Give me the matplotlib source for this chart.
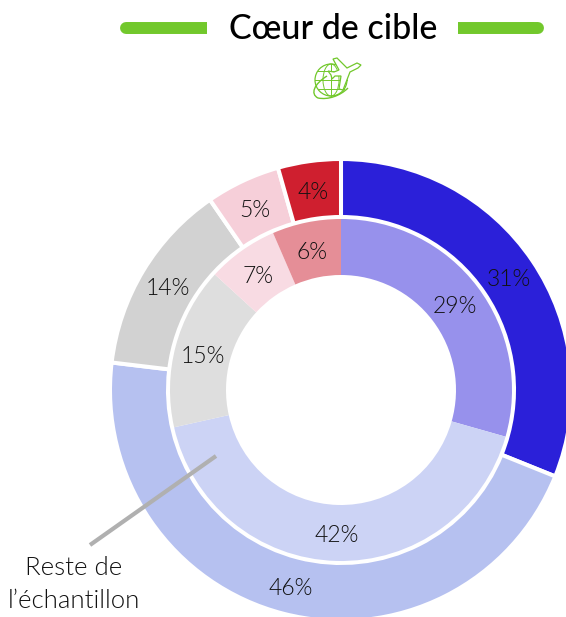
import matplotlib
matplotlib.use("Agg")
import matplotlib.pyplot as plt
import numpy as np
from matplotlib.patches import Circle, Ellipse, PathPatch, Polygon
from matplotlib.path import Path

outer_values = [31.1, 45.8, 13.5, 5.2, 4.4]
inner_values = [29.4, 42.1, 15.3, 6.7, 6.5]
outer_labels = ["31%", "46%", "14%", "5%", "4%"]
inner_labels = ["29%", "42%", "15%", "7%", "6%"]
outer_colors = ["#2b20d9", "#b6c1f0", "#d2d2d2", "#f6cfd9", "#cf1f2f"]
inner_colors = ["#9791ec", "#ccd3f5", "#dedede", "#f8dbe3", "#e58e97"]
GREEN = "#72c82c"
FONT = ["Lato", "DejaVu Sans"]
INK = "#111111"

# axes in pixels of the reference, y up so the pie keeps its orientation
fig = plt.figure(figsize=(5.66, 6.17), dpi=100)
ax = fig.add_axes([0, 0, 1, 1])
cx, cy = 341, 390


def ring(values, labels, colors, radius, width, edge, r_label):
    wedges, _ = ax.pie(values, colors=colors, radius=radius, center=(cx, -cy), startangle=90,
                       counterclock=False, frame=True,
                       wedgeprops=dict(width=width, edgecolor=edge, linewidth=2.9 if edge != "none" else 0))
    for w, lab in zip(wedges, labels):
        a = np.deg2rad((w.theta1 + w.theta2) / 2)
        ax.text(cx + r_label * np.cos(a), -cy + r_label * np.sin(a) - 3, lab, ha="center", va="center",
                fontsize=16.5, family=FONT, weight=300, color=INK, zorder=5)


ring(outer_values, outer_labels, outer_colors, 231, 58, "white", 202)
ring(inner_values, inner_labels, inner_colors, 171, 56, "none", 143)

ax.set_xlim(0, 566)
ax.set_ylim(-617, 0)
ax.set_aspect("equal")
ax.axis("off")

# title and bars
ax.text(333, -29, "Cœur de cible", ha="center", va="center", fontsize=24.5, family=FONT,
        weight="medium", color="black")
for x0, x1, xr0, xr1 in [(130, 207, 126, 134), (458, 534, 530, 538)]:
    ax.plot([x0, x1], [-28, -28], color=GREEN, lw=8.6, solid_capstyle="butt")
    ax.plot([xr0, xr1], [-28, -28], color=GREEN, lw=8.6, solid_capstyle="round")

# globe + plane icon
ix, iy, ir = 331, -80, 16
ax.add_patch(Circle((ix, iy), ir, fill=False, ec=GREEN, lw=0.9))
ax.add_patch(Ellipse((ix, iy), 16, ir * 2, fill=False, ec=GREEN, lw=0.7))
ax.plot([ix, ix], [iy - ir, iy + ir], color=GREEN, lw=0.7)
ax.plot([ix - ir, ix + ir], [iy, iy], color=GREEN, lw=0.7)
ax.plot([ix - 13, ix + 13], [iy + 9, iy + 9], color=GREEN, lw=0.7)
ax.plot([ix - 13, ix + 13], [iy - 9, iy - 9], color=GREEN, lw=0.7)
orbit = Path([(327, -76), (314, -84), (310, -94), (318, -98), (328, -100), (340, -96), (348, -88)],
             [Path.MOVETO] + [Path.CURVE4] * 6)
ax.add_patch(PathPatch(orbit, fill=False, ec=GREEN, lw=1.0, zorder=3))
ax.add_patch(Polygon([(328, -71), (334, -72), (339, -70), (333, -59), (337, -58), (347, -68),
                      (357, -63), (361, -65), (358, -68), (350, -72), (343, -90), (339, -89),
                      (341, -76), (335, -76), (332, -79), (331, -75)],
                     closed=True, fc="white", ec=GREEN, lw=0.9, zorder=4))

# leader
ax.plot([216, 90], [-456, -545], color="#b0b0b0", lw=3, solid_capstyle="butt", zorder=4)
ax.text(74, -568, "Reste de", ha="center", va="center", fontsize=18.5, family=FONT, weight=300,
        color=INK)
ax.text(74, -601, "l’échantillon", ha="center", va="center", fontsize=18.5, family=FONT,
        weight=300, color=INK)

fig.savefig("out.png", dpi=100)
